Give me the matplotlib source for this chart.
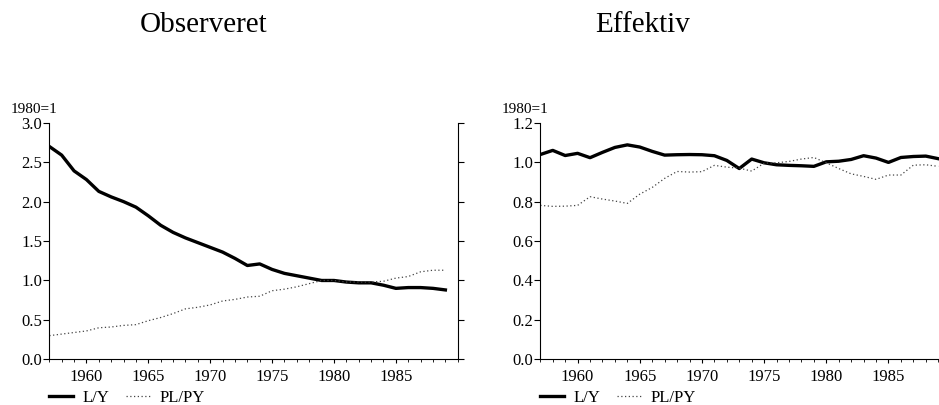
import matplotlib.pyplot as plt
from matplotlib.ticker import MultipleLocator

plt.rcParams['font.family'] = ['Liberation Serif', 'DejaVu Serif']

years = list(range(1957, 1990))
tick_years = [1960, 1965, 1970, 1975, 1980, 1985]

# Observeret (1980=1)
obs_ly = [2.70, 2.59, 2.39, 2.28, 2.13, 2.06, 2.00, 1.93, 1.82, 1.70, 1.61,
          1.54, 1.48, 1.42, 1.36, 1.28, 1.19, 1.21, 1.14, 1.09, 1.06, 1.03,
          1.00, 1.00, 0.98, 0.97, 0.97, 0.94, 0.90, 0.91, 0.91, 0.90, 0.88]
obs_plpy = [0.30, 0.32, 0.34, 0.36, 0.40, 0.41, 0.43, 0.44, 0.49, 0.53, 0.58,
            0.64, 0.66, 0.69, 0.74, 0.76, 0.79, 0.80, 0.87, 0.89, 0.92, 0.96,
            1.00, 1.00, 0.98, 0.98, 0.98, 0.99, 1.03, 1.05, 1.11, 1.13, 1.13]

# Effektiv (1980=1)
eff_ly = [1.039, 1.060, 1.034, 1.045, 1.023, 1.050, 1.075, 1.088, 1.077, 1.055,
          1.036, 1.038, 1.039, 1.038, 1.033, 1.009, 0.968, 1.016, 0.997, 0.987,
          0.984, 0.982, 0.979, 1.002, 1.005, 1.014, 1.033, 1.021, 0.999, 1.024,
          1.029, 1.031, 1.018]
eff_plpy = [0.781, 0.776, 0.777, 0.781, 0.825, 0.813, 0.803, 0.791, 0.838, 0.872,
            0.918, 0.953, 0.950, 0.952, 0.984, 0.975, 0.970, 0.955, 0.995, 0.997,
            1.004, 1.016, 1.024, 0.997, 0.968, 0.941, 0.928, 0.913, 0.935, 0.935,
            0.985, 0.987, 0.979]

fig = plt.figure(figsize=(9.39, 4.05), dpi=100)
ax1 = fig.add_axes([0.0525, 0.1128, 0.435, 0.584])
ax2 = fig.add_axes([0.5754, 0.1128, 0.437, 0.584])


def style(ax, ly, plpy, ymax, ystep, right_spine):
    ax.plot(years, ly, color='black', lw=2.4, label='L/Y', solid_joinstyle='round')
    ax.plot(years, plpy, color='#444444', lw=0.9, ls=(0, (1, 2)), label='PL/PY')
    ax.set_xlim(1957, 1990)
    ax.set_ylim(0, ymax)
    ax.set_xticks(tick_years)
    ax.xaxis.set_minor_locator(MultipleLocator(1))
    ax.yaxis.set_major_locator(MultipleLocator(ystep))
    ax.yaxis.set_major_formatter(plt.FormatStrFormatter('%.1f'))
    ax.spines['top'].set_visible(False)
    ax.spines['right'].set_visible(right_spine)
    ax.tick_params(axis='y', direction='out', length=4, width=0.8,
                   labelsize=12, pad=1, right=right_spine, labelright=False)
    ax.tick_params(axis='x', which='major', direction='out', length=3, width=0.8,
                   labelsize=12, pad=4)
    ax.tick_params(axis='x', which='minor', direction='out', length=2, width=0.6)
    ax.text(-0.095, 1.03, '1980=1', transform=ax.transAxes, fontsize=11,
            ha='left', va='bottom')
    ax.legend(loc='upper left', bbox_to_anchor=(0.0, -0.13), ncol=2,
              frameon=False, fontsize=12, handlelength=1.4, handletextpad=0.6,
              columnspacing=1.0, borderaxespad=0, borderpad=0)


style(ax1, obs_ly, obs_plpy, 3.0, 0.5, True)
style(ax2, eff_ly, eff_plpy, 1.2, 0.2, False)

fig.text(204 / 939, 1 - 32 / 405, 'Observeret', ha='center', va='baseline', fontsize=21)
fig.text(643 / 939, 1 - 32 / 405, 'Effektiv', ha='center', va='baseline', fontsize=21)

fig.savefig('out.png', dpi=100)
